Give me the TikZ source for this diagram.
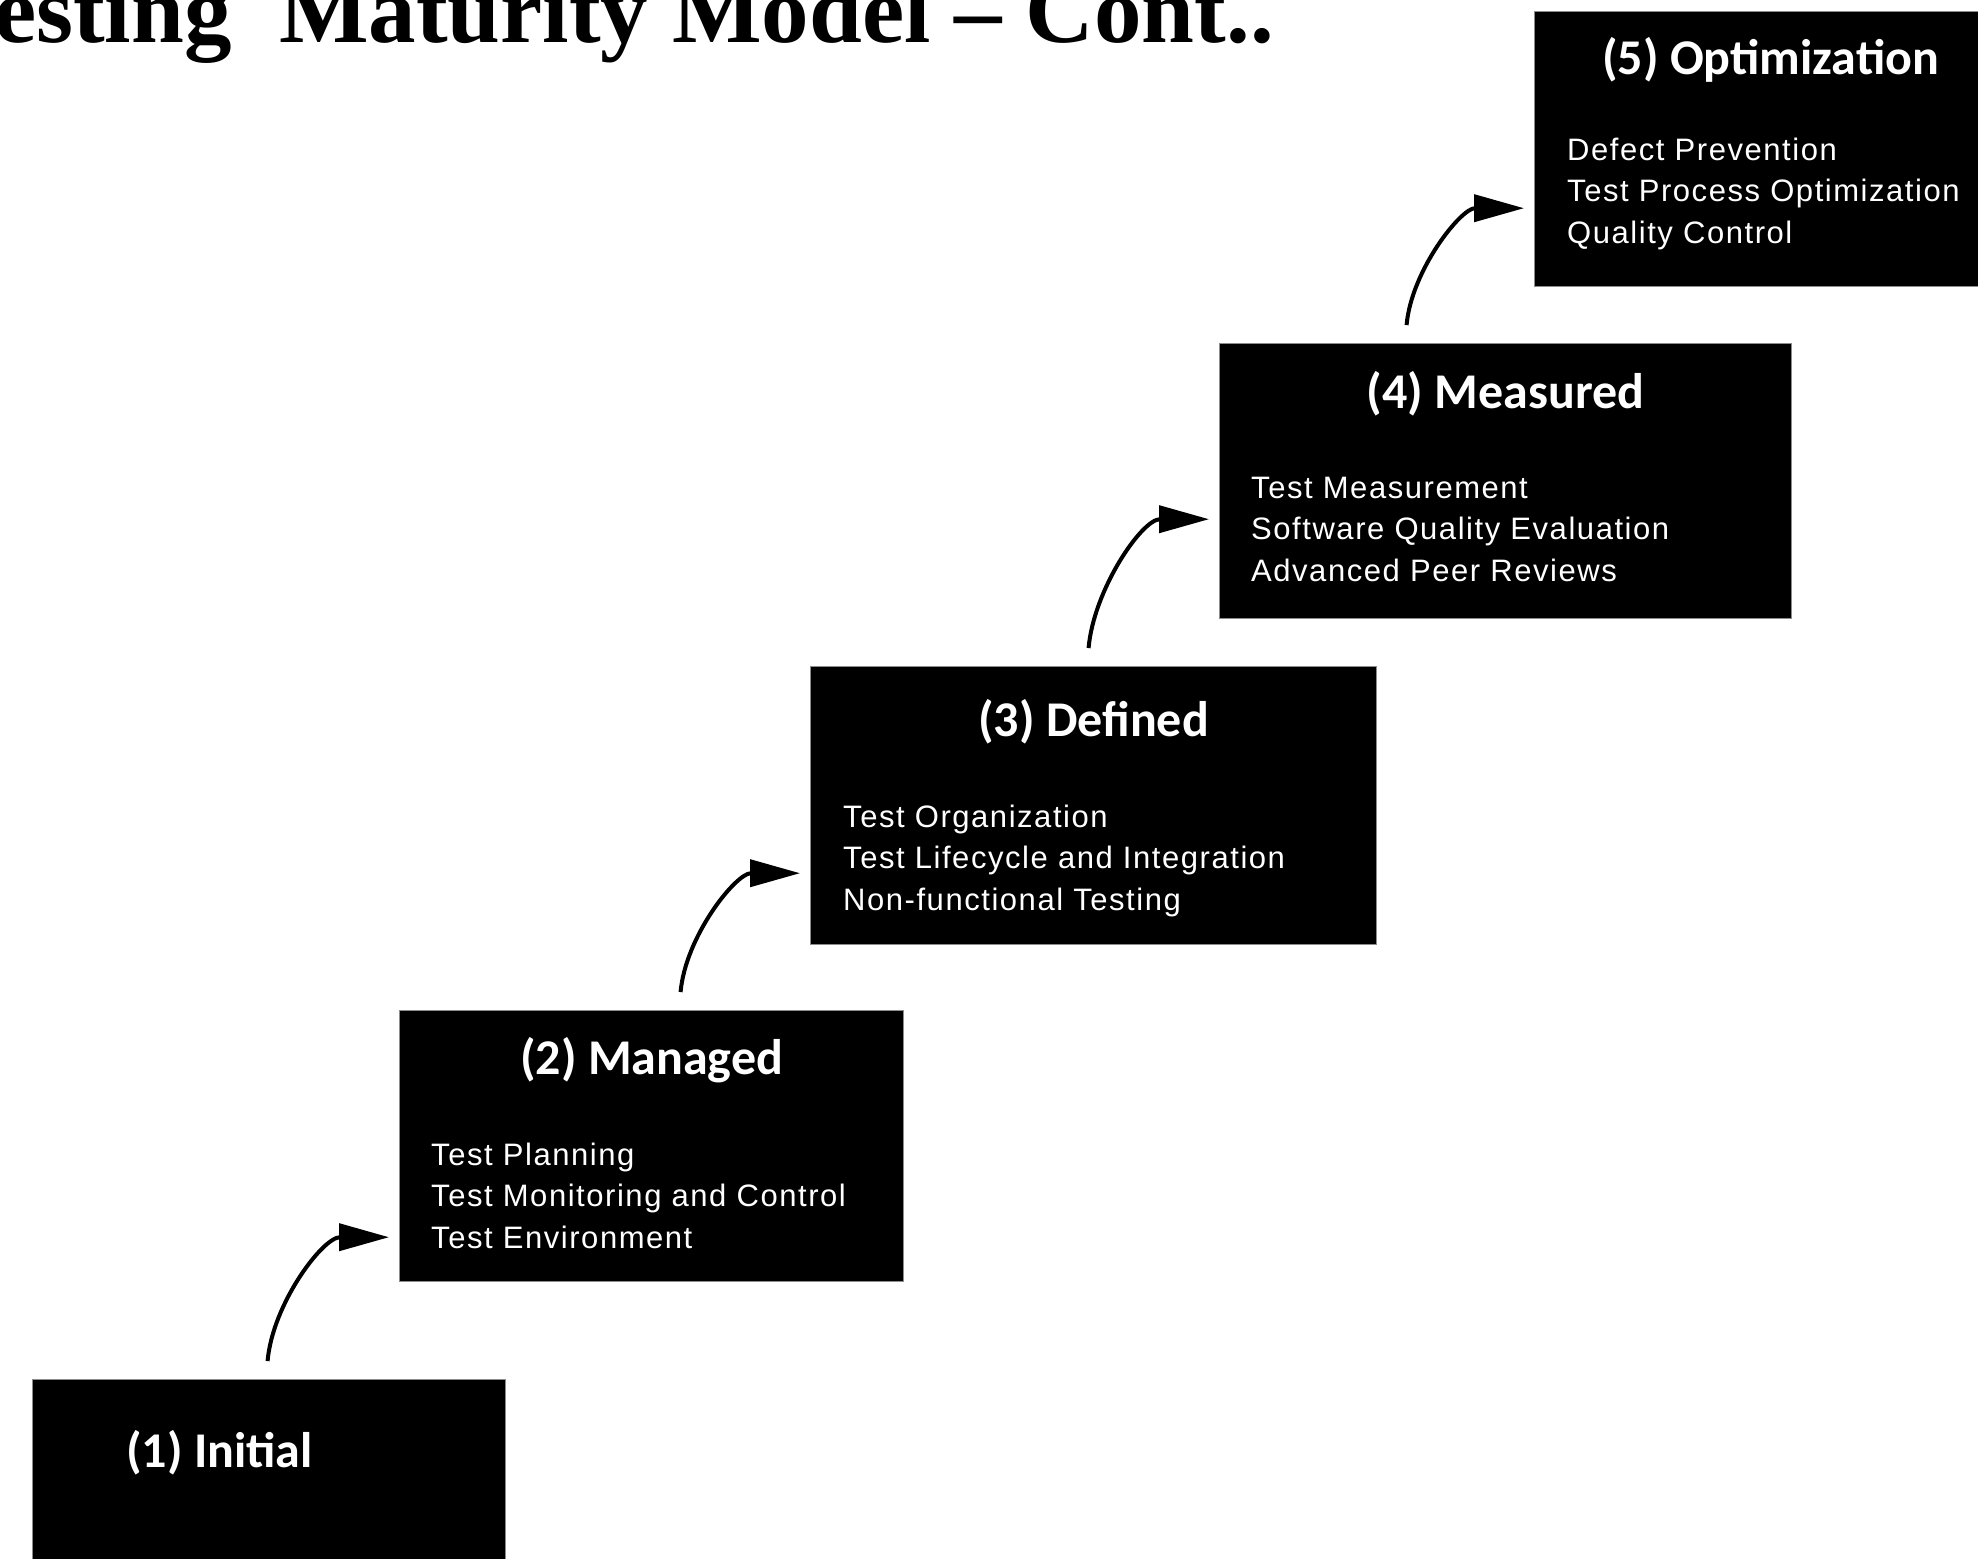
\documentclass[tikz,border=0pt]{standalone}
\usepackage{fontspec}
\usepackage{tikz}
\usetikzlibrary{arrows.meta,positioning,calc}
\newfontfamily\stagefont{Carlito}
\newfontfamily\itemfont[LetterSpace=5]{Liberation Sans}
\newfontfamily\headfont{Liberation Serif}

\tikzset{
  stagebox/.style={fill=black, draw=black!45, line width=1.2pt, inner sep=0pt, anchor=north west},
  stagename/.style={text=white, font=\stagefont\bfseries\fontsize{50}{60}\selectfont, anchor=base, inner sep=0pt},
  stageitems/.style={text=white, font=\itemfont\fontsize{31}{41.5}\selectfont, align=left, anchor=base west, inner sep=0pt},
  stepto/.style={-{Triangle[length=50pt,width=27pt]}, line width=4pt, shorten <=18pt, shorten >=10pt}
}

\begin{document}
\begin{tikzpicture}[x=1pt,y=1pt]
\useasboundingbox (0,0) rectangle (1978,-1558);
\clip (0,0) rectangle (1978,-1558);

\node[font=\headfont\bfseries\fontsize{95}{100}\selectfont, anchor=base east, inner sep=0pt] (head) at (1274,-42) {Testing\ \ Maturity Model – Cont..};

% the five levels
\node[stagebox, minimum width=473pt, minimum height=220pt] (b1) at (32,-1379) {};
\node[stagebox, minimum width=504pt, minimum height=271pt] (b2) at (399,-1010) {};
\node[stagebox, minimum width=566pt, minimum height=278pt] (b3) at (810,-666) {};
\node[stagebox, minimum width=572pt, minimum height=275pt] (b4) at (1219,-343) {};
\node[stagebox, minimum width=480pt, minimum height=275pt] (b5) at (1534,-11) {};

\node[stagename, anchor=base west] (n1) at ([xshift=94pt,yshift=-88pt]b1.north west) {(1) Initial};
\node[stagename] (n2) at ([yshift=-64pt]b2.north) {(2) Managed};
\node[stagename] (n3) at ([yshift=-70pt]b3.north) {(3) Defined};
\node[stagename] (n4) at ([yshift=-65pt]b4.north) {(4) Measured};
\node[stagename] (n5) at ([xshift=-4pt,yshift=-63pt]b5.north) {(5) Optimization};

% base of the last line
\node[stageitems] (l2) at ([xshift=32pt,yshift=-238pt]b2.north west) {Test Planning\\Test Monitoring and Control\\Test Environment};
\node[stageitems] (l3) at ([xshift=33pt,yshift=-244pt]b3.north west) {Test Organization\\Test Lifecycle and Integration\\Non-functional Testing};
\node[stageitems] (l4) at ([xshift=32pt,yshift=-238pt]b4.north west) {Test Measurement\\Software Quality Evaluation\\Advanced Peer Reviews};
\node[stageitems] (l5) at ([xshift=33pt,yshift=-232pt]b5.north west) {Defect Prevention\\Test Process Optimization\\Quality Control};

% steps up
\draw[stepto] ([xshift=234pt]b1.north west) to[out=85,in=180] ([yshift=45pt]b2.south west);
\draw[stepto] ([xshift=280pt]b2.north west) to[out=85,in=180] ([yshift=72pt]b3.south west);
\draw[stepto] ([xshift=277pt]b3.north west) to[out=85,in=180] ([yshift=100pt]b4.south west);
\draw[stepto] ([xshift=186pt]b4.north west) to[out=85,in=180] ([yshift=79pt]b5.south west);
\end{tikzpicture}
\end{document}
